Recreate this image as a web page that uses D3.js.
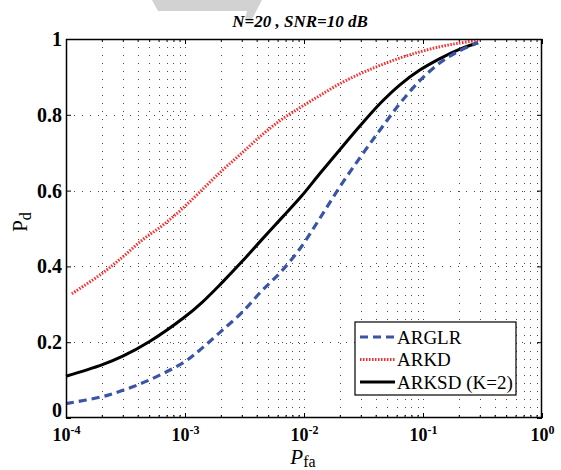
<!DOCTYPE html>
<html>
<head>
<meta charset="utf-8">
<script src="https://d3js.org/d3.v7.min.js"></script>
<style>
  body { margin: 0; background: #fff; }
  svg text { font-family: 'Liberation Serif', 'DejaVu Serif', 'Times New Roman', serif !important; }
</style>
</head>
<body>
<svg id="chart" width="561" height="470"></svg>
<script>
'use strict';

// data
const pfaGrid = [1e-4, 2e-4, 3e-4, 5e-4, 1e-3, 1.4e-3, 2e-3, 3e-3, 4.4e-3, 6.5e-3, 9.5e-3,
  1.36e-2, 2e-2, 3e-2, 4.4e-2, 6.4e-2, 9.4e-2, 1.4e-1, 2e-1, 2.9e-1];
const arglrPd = [0.038, 0.056, 0.073, 0.1, 0.149, 0.185, 0.228, 0.278, 0.335, 0.388, 0.452,
  0.527, 0.61, 0.69, 0.762, 0.83, 0.89, 0.938, 0.968, 0.99];
const arksdPd = [0.11, 0.14, 0.163, 0.201, 0.267, 0.306, 0.354, 0.412, 0.47, 0.528, 0.585,
  0.645, 0.708, 0.773, 0.831, 0.879, 0.918, 0.949, 0.972, 0.99];
const arkdPfa = [1.12e-4, 2e-4, 3e-4, 4.35e-4, 6.4e-4, 9.4e-4, 1.39e-3, 2.05e-3, 3e-3, 4.4e-3,
  6.5e-3, 9.5e-3, 1.36e-2, 2e-2, 3e-2, 4.4e-2, 6.4e-2, 9.4e-2, 1.4e-1, 2e-1, 2.9e-1];
const arkdPd = [0.328, 0.381, 0.425, 0.469, 0.507, 0.551, 0.602, 0.653, 0.699, 0.746,
  0.788, 0.821, 0.851, 0.882, 0.909, 0.931, 0.95, 0.966, 0.98, 0.989, 0.997];

const xTickExps = [-4, -3, -2, -1, 0];
const yTicks = [0, 0.2, 0.4, 0.6, 0.8, 1];
const seriesNames = ['ARGLR', 'ARKD', 'ARKSD (K=2)'];
const titleText = 'N=20 , SNR=10 dB';

const svg = d3.select('#chart');
const plotLeft = 66, plotRight = 542, plotTop = 39, plotBottom = 418;
const serif = "'Liberation Serif', 'DejaVu Serif', serif";

const x = d3.scaleLog().domain([1e-4, 1]).range([plotLeft, plotRight]);
const y = d3.scaleLinear().domain([0, 1]).range([plotBottom, plotTop]);

// faint scan watermark at the top edge
svg.append('path')
  .attr('d', 'M152,0 L262,0 L252,19 L245,19 L247,11 L158,11 Z')
  .attr('fill', '#d2d2d2');

// grid, MATLAB dotted style
const grid = svg.append('g').attr('stroke', '#000').attr('stroke-width', 1)
  .attr('stroke-dasharray', '1,7').attr('opacity', 0.7);

grid.selectAll('line.vg')
  .data(x.ticks().filter(t => t > 1e-4 && t < 1))
  .enter().append('line')
    .attr('class', 'vg')
    .attr('x1', d => Math.round(x(d)) + 0.5).attr('x2', d => Math.round(x(d)) + 0.5)
    .attr('y1', plotTop).attr('y2', plotBottom);

grid.selectAll('line.hg')
  .data(yTicks.filter(t => t > 0 && t < 1))
  .enter().append('line')
    .attr('class', 'hg')
    .attr('x1', plotLeft).attr('x2', plotRight)
    .attr('y1', d => Math.round(y(d)) + 0.5).attr('y2', d => Math.round(y(d)) + 0.5);

// axes with inward ticks on all four sides
const majorX = xTickExps.map(e => Math.pow(10, e));
const minorX = x.ticks().filter(t => !majorX.some(m => Math.abs(m - t) / m < 1e-6));

const styleAxis = g => {
  g.attr('font-family', serif);
  g.select('.domain').remove();
  g.selectAll('line').attr('stroke', '#000').attr('stroke-width', 1);
};

svg.append('g').attr('transform', `translate(0,${plotBottom})`)
  .call(d3.axisBottom(x).tickValues(minorX).tickSize(-3).tickFormat(''))
  .call(styleAxis);
svg.append('g').attr('transform', `translate(0,${plotTop})`)
  .call(d3.axisTop(x).tickValues(minorX).tickSize(-3).tickFormat(''))
  .call(styleAxis);
svg.append('g').attr('transform', `translate(0,${plotTop})`)
  .call(d3.axisTop(x).tickValues(majorX).tickSize(-5).tickFormat(''))
  .call(styleAxis);
svg.append('g').attr('transform', `translate(${plotRight},0)`)
  .call(d3.axisRight(y).tickValues(yTicks).tickSize(-5).tickFormat(''))
  .call(styleAxis);

const xAxis = svg.append('g').attr('transform', `translate(0,${plotBottom})`)
  .call(d3.axisBottom(x).tickValues(majorX).tickSize(-5).tickPadding(10).tickFormat(''))
  .call(styleAxis);

xAxis.selectAll('.tick text')
  .attr('font-size', 18).attr('font-weight', 'bold').attr('fill', '#000')
  .each(function(d) {
    const t = d3.select(this);
    t.append('tspan').text('10');
    t.append('tspan').attr('dy', -7).attr('font-size', 12).text(String(Math.round(Math.log10(d))));
  });

const yAxis = svg.append('g').attr('transform', `translate(${plotLeft},0)`)
  .call(d3.axisLeft(y).tickValues(yTicks).tickSize(-5).tickPadding(4)
    .tickFormat(d => (d === 0 || d === 1) ? String(d) : d.toFixed(1)))
  .call(styleAxis);

yAxis.selectAll('.tick text')
  .attr('font-size', 20).attr('font-weight', 'bold').attr('fill', '#000')
  .attr('y', d => d === 0 ? -8 : 0);

// curves
const line = (xs, ys) => d3.line()
  .x((d, i) => x(xs[i]))
  .y(d => y(d))
  .curve(d3.curveCatmullRom.alpha(0.5))(ys);

svg.append('path')
  .attr('d', line(arkdPfa, arkdPd))
  .attr('fill', 'none').attr('stroke', '#ff2a2a').attr('stroke-width', 3)
  .attr('stroke-dasharray', '1.5,1.5');

svg.append('path')
  .attr('d', line(pfaGrid, arksdPd))
  .attr('fill', 'none').attr('stroke', '#000').attr('stroke-width', 3);

svg.append('path')
  .attr('d', line(pfaGrid, arglrPd))
  .attr('fill', 'none').attr('stroke', '#3a55a8').attr('stroke-width', 3.2)
  .attr('stroke-dasharray', '8,5');

// box
svg.append('rect')
  .attr('x', plotLeft + 0.5).attr('y', plotTop + 0.5)
  .attr('width', plotRight - plotLeft - 1).attr('height', plotBottom - plotTop - 1)
  .attr('fill', 'none').attr('stroke', '#000').attr('stroke-width', 1.5);

// legend
const legend = svg.append('g').attr('transform', 'translate(355,322)');
legend.append('rect')
  .attr('width', 161).attr('height', 73)
  .attr('fill', '#fff').attr('stroke', '#000').attr('stroke-width', 1.2);

const legendStyles = [
  { stroke: '#3a55a8', dash: '8,5', width: 3.2 },
  { stroke: '#ff2a2a', dash: '1.5,1.5', width: 3 },
  { stroke: '#000', dash: null, width: 3 }
];

const entry = legend.selectAll('g.entry')
  .data(seriesNames)
  .enter().append('g')
    .attr('class', 'entry')
    .attr('transform', (d, i) => `translate(0,${15 + i * 22.5})`);

entry.append('line')
  .attr('x1', 5).attr('x2', 40).attr('y1', 0).attr('y2', 0)
  .attr('stroke', (d, i) => legendStyles[i].stroke)
  .attr('stroke-width', (d, i) => legendStyles[i].width)
  .attr('stroke-dasharray', (d, i) => legendStyles[i].dash);

entry.append('text')
  .attr('x', 42).attr('y', 6.5)
  .attr('font-family', serif)
  .attr('font-size', 19)
  .text(d => d);

// titles
svg.append('text')
  .attr('x', 300).attr('y', 27)
  .attr('text-anchor', 'middle')
  .attr('font-family', serif)
  .attr('font-size', 17).attr('font-weight', 'bold').attr('font-style', 'italic')
  .text(titleText);

const xLabel = svg.append('text')
  .attr('x', 303).attr('y', 464)
  .attr('text-anchor', 'middle')
  .attr('font-family', serif)
  .attr('font-size', 21);
xLabel.append('tspan').attr('font-style', 'italic').text('P');
xLabel.append('tspan').attr('dy', 3).attr('font-size', 16).text('fa');

const yLabel = svg.append('text')
  .attr('transform', 'translate(27,222) rotate(-90)')
  .attr('text-anchor', 'middle')
  .attr('font-family', serif)
  .attr('font-size', 21);
yLabel.append('tspan').text('P');
yLabel.append('tspan').attr('dy', 4).attr('font-size', 16).text('d');
</script>
</body>
</html>
